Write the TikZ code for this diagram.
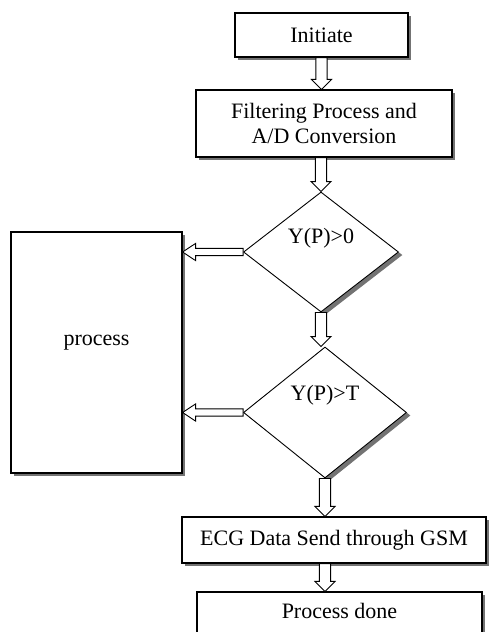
\documentclass[tikz,border=0pt]{standalone}
\usepackage{fontspec}
\setmainfont{Liberation Serif}
\usetikzlibrary{shapes.geometric, shadows, calc}

\begin{document}
\begin{tikzpicture}[x=0.5pt, y=-0.5pt, line width=0.6pt,
  font=\fontsize{11}{12.5}\selectfont,
  box/.style={draw, rectangle, fill=white, inner sep=2pt, align=center,
    drop shadow={shadow xshift=1.6pt, shadow yshift=-1.6pt, fill=black!55, opacity=1}},
  test/.style={draw, diamond, fill=white, inner sep=0pt, line width=0.45pt,
    drop shadow={shadow xshift=2pt, shadow yshift=-1.5pt, fill=black!55, opacity=1}},
  hollow/.style n args={3}{draw, fill=white, line width=0.45pt, line join=miter,
    to path={($(\tikztostart)!#1!90:(\tikztotarget)$)
      -- ($($(\tikztotarget)!#3!(\tikztostart)$)!#1!90:(\tikztotarget)$)
      -- ($($(\tikztotarget)!#3!(\tikztostart)$)!#2!90:(\tikztotarget)$)
      -- (\tikztotarget)
      -- ($($(\tikztotarget)!#3!(\tikztostart)$)!#2!-90:(\tikztotarget)$)
      -- ($($(\tikztotarget)!#3!(\tikztostart)$)!#1!-90:(\tikztotarget)$)
      -- ($(\tikztostart)!#1!-90:(\tikztotarget)$) -- cycle}},
  vflow/.style={hollow={2.8pt}{5pt}{5pt}},
  hflow/.style={hollow={1.8pt}{4.3pt}{6.5pt}}]
  \useasboundingbox (0,0) rectangle (489,632);
  \clip (0,0) rectangle (489,632);
  \node[box, minimum width=86.5pt, minimum height=22pt] (init) at (321.5,35) {Initiate};
  \node[box, minimum width=128pt, minimum height=33.5pt] (filt) at (324,123.5) {Filtering Process and\\A/D Conversion};
  \node[test, minimum width=77.5pt, minimum height=60pt, label={[yshift=7pt]center:Y(P)>0}] (chk1) at (321,252) {};
  \node[test, minimum width=81.5pt, minimum height=65.5pt, label={[yshift=8.5pt]center:Y(P)>T}] (chk2) at (325,412.5) {};
  \node[box, minimum width=85.5pt, minimum height=120.5pt, label={[yshift=5pt]center:process}] (proc) at (96.5,352.5) {};
  \node[box, minimum width=152pt, minimum height=23pt] (send) at (334,540) {ECG Data Send through GSM};
  \node[box, minimum width=142.5pt, minimum height=30pt] (done) at (339.5,622) {};
  \node[anchor=center] (donetext) at (339.5,611) {Process done};
  \draw[vflow] (init.south) to (init.south |- filt.north);
  \draw[vflow] (chk1.north |- filt.south) to (chk1.north);
  \draw[vflow] (chk1.south) to (chk1.south |- chk2.north);
  \draw[hflow] (chk1.west) to (chk1.west -| proc.east);
  \draw[hflow] (chk2.west) to (chk2.west -| proc.east);
  \draw[vflow] (chk2.south) to (chk2.south |- send.north);
  \draw[vflow] (chk2.south |- send.south) to (chk2.south |- done.north);
\end{tikzpicture}
\end{document}
